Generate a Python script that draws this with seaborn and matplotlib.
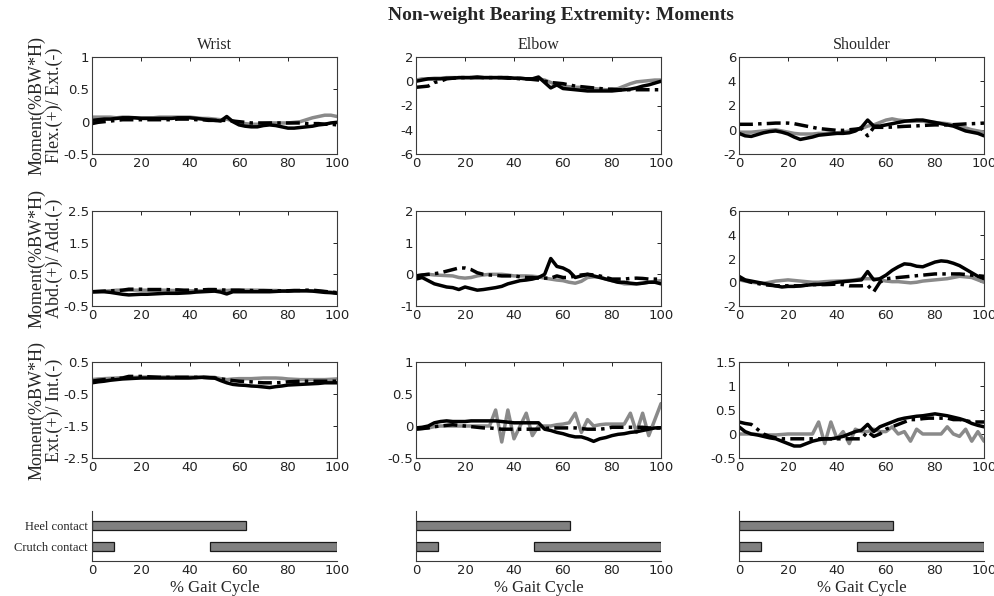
import matplotlib.pyplot as plt
import seaborn as sns
import numpy as np
from matplotlib.ticker import FuncFormatter

# % gait cycle sample points (every 2.5 %)
gait = np.arange(0, 100.1, 2.5)

# ---- Flex/Ext moments ----
wrist_fe_gray = [0.07, 0.07, 0.07, 0.07, 0.06, 0.07, 0.07, 0.06, 0.06, 0.06,
                 0.06, 0.07, 0.07, 0.07, 0.07, 0.07, 0.07, 0.06, 0.05, 0.05,
                 0.04, 0.03, 0.04, 0.01, -0.02, -0.03, -0.04, -0.04, -0.03, -0.02,
                 -0.02, -0.02, -0.02, -0.01, 0.00, 0.03, 0.06, 0.08, 0.10, 0.10, 0.08]
wrist_fe_black = [0.02, 0.03, 0.04, 0.04, 0.05, 0.06, 0.06, 0.06, 0.05, 0.05,
                  0.05, 0.05, 0.05, 0.05, 0.06, 0.06, 0.06, 0.05, 0.04, 0.03,
                  0.02, 0.01, 0.08, 0.00, -0.05, -0.07, -0.08, -0.08, -0.06, -0.05,
                  -0.06, -0.08, -0.10, -0.10, -0.09, -0.08, -0.07, -0.05, -0.04, -0.02, -0.01]
wrist_fe_dash = [-0.03, -0.01, 0.00, 0.01, 0.02, 0.03, 0.03, 0.03, 0.03, 0.03,
                 0.03, 0.03, 0.03, 0.03, 0.04, 0.04, 0.04, 0.03, 0.03, 0.02,
                 0.02, 0.02, 0.02, 0.01, 0.00, -0.01, -0.02, -0.02, -0.02, -0.02,
                 -0.02, -0.02, -0.02, -0.02, -0.02, -0.03, -0.03, -0.03, -0.04, -0.04, -0.05]

elbow_fe_gray = [0.1, 0.2, 0.2, 0.25, 0.25, 0.3, 0.3, 0.3, 0.3, 0.3,
                 0.3, 0.3, 0.3, 0.3, 0.3, 0.3, 0.25, 0.25, 0.2, 0.2,
                 0.2, 0.1, -0.1, -0.3, -0.4, -0.45, -0.5, -0.5, -0.55, -0.6,
                 -0.65, -0.7, -0.7, -0.6, -0.4, -0.2, -0.05, 0.0, 0.05, 0.1, 0.1]
elbow_fe_black = [0.0, 0.1, 0.2, 0.2, 0.2, 0.25, 0.25, 0.3, 0.3, 0.3,
                  0.35, 0.3, 0.3, 0.3, 0.3, 0.3, 0.25, 0.25, 0.2, 0.2,
                  0.35, -0.1, -0.55, -0.3, -0.6, -0.65, -0.7, -0.75, -0.8, -0.8,
                  -0.8, -0.8, -0.8, -0.75, -0.7, -0.65, -0.55, -0.4, -0.3, -0.15, 0.0]
elbow_fe_dash = [-0.5, -0.45, -0.4, -0.1, 0.0, 0.2, 0.25, 0.3, 0.3, 0.3,
                 0.3, 0.3, 0.3, 0.3, 0.3, 0.25, 0.25, 0.2, 0.2, 0.15,
                 0.1, 0.0, -0.1, -0.15, -0.2, -0.3, -0.4, -0.45, -0.5, -0.55,
                 -0.6, -0.65, -0.65, -0.7, -0.7, -0.7, -0.7, -0.7, -0.7, -0.7, -0.7]

shoulder_fe_gray = [-0.2, -0.2, -0.2, -0.15, -0.1, -0.05, 0.0, -0.1, -0.2, -0.3,
                    -0.35, -0.35, -0.35, -0.3, -0.3, -0.25, -0.25, -0.2, -0.1, 0.0,
                    0.1, 0.3, 0.4, 0.6, 0.8, 0.9, 0.8, 0.75, 0.7, 0.7,
                    0.7, 0.65, 0.6, 0.55, 0.5, 0.4, 0.3, 0.15, 0.0, -0.1, -0.2]
shoulder_fe_black = [-0.3, -0.5, -0.55, -0.4, -0.25, -0.15, -0.1, -0.2, -0.35, -0.6,
                     -0.8, -0.7, -0.6, -0.45, -0.4, -0.35, -0.3, -0.3, -0.25, -0.1,
                     0.2, 0.8, 0.3, 0.3, 0.4, 0.5, 0.6, 0.7, 0.75, 0.8,
                     0.8, 0.7, 0.6, 0.5, 0.4, 0.3, 0.1, -0.1, -0.2, -0.3, -0.5]
shoulder_fe_dash = [0.45, 0.45, 0.45, 0.48, 0.5, 0.52, 0.55, 0.55, 0.55, 0.5,
                    0.4, 0.3, 0.2, 0.1, 0.05, 0.0, -0.05, -0.05, 0.0, 0.05,
                    0.1, -0.5, 0.2, 0.2, 0.2, 0.22, 0.25, 0.28, 0.3, 0.32,
                    0.35, 0.38, 0.4, 0.4, 0.4, 0.42, 0.45, 0.48, 0.5, 0.52, 0.55]

# ---- Abd/Add moments ----
wrist_aa_gray = [-0.05, -0.04, -0.03, -0.02, 0.0, 0.0, 0.0, 0.0, 0.0, 0.0,
                 0.0, 0.0, 0.0, -0.01, -0.01, -0.02, -0.02, -0.02, -0.02, -0.02,
                 -0.02, -0.01, -0.01, 0.0, 0.0, 0.0, 0.0, 0.0, 0.0, -0.01,
                 -0.01, -0.02, -0.02, -0.02, -0.02, -0.02, -0.02, -0.03, -0.05, -0.06, -0.08]
wrist_aa_black = [-0.05, -0.05, -0.05, -0.07, -0.1, -0.13, -0.15, -0.14, -0.13, -0.13,
                  -0.12, -0.11, -0.1, -0.1, -0.1, -0.09, -0.08, -0.06, -0.05, -0.04,
                  -0.03, -0.06, -0.12, -0.05, -0.05, -0.05, -0.05, -0.05, -0.05, -0.05,
                  -0.04, -0.03, -0.03, -0.02, -0.02, -0.02, -0.03, -0.05, -0.07, -0.08, -0.1]
wrist_aa_dash = [-0.05, -0.04, -0.03, -0.02, -0.02, 0.0, 0.03, 0.03, 0.03, 0.02,
                 0.02, 0.02, 0.02, 0.01, 0.01, 0.0, 0.0, 0.01, 0.01, 0.02,
                 0.02, 0.01, 0.0, 0.0, 0.0, -0.01, -0.01, -0.02, -0.02, -0.02,
                 -0.02, -0.02, -0.02, -0.01, -0.01, 0.0, 0.0, -0.02, -0.04, -0.06, -0.08]

elbow_aa_gray = [-0.05, -0.02, 0.0, -0.02, -0.03, -0.04, -0.05, -0.1, -0.12, -0.1,
                 -0.05, -0.02, 0.0, 0.0, 0.0, -0.02, -0.05, -0.05, -0.05, -0.06,
                 -0.08, -0.12, -0.15, -0.18, -0.2, -0.25, -0.28, -0.22, -0.1, -0.08,
                 -0.08, -0.15, -0.2, -0.25, -0.3, -0.3, -0.3, -0.28, -0.25, -0.22, -0.2]
elbow_aa_black = [-0.15, -0.1, -0.2, -0.3, -0.35, -0.4, -0.42, -0.48, -0.4, -0.45,
                  -0.5, -0.48, -0.45, -0.42, -0.38, -0.3, -0.25, -0.2, -0.18, -0.15,
                  -0.1, 0.0, 0.5, 0.25, 0.2, 0.1, -0.1, -0.05, 0.0, -0.05,
                  -0.1, -0.15, -0.2, -0.25, -0.25, -0.28, -0.3, -0.28, -0.25, -0.25, -0.3]
elbow_aa_dash = [-0.05, -0.02, 0.0, 0.02, 0.05, 0.1, 0.15, 0.2, 0.2, 0.15,
                 0.05, 0.0, -0.02, -0.03, -0.05, -0.05, -0.05, -0.08, -0.1, -0.1,
                 -0.12, -0.12, -0.12, -0.05, -0.1, -0.1, -0.05, -0.02, 0.0, -0.02,
                 -0.05, -0.1, -0.15, -0.15, -0.15, -0.13, -0.12, -0.13, -0.15, -0.15, -0.15]

shoulder_aa_gray = [0.2, 0.1, 0.0, -0.05, -0.1, 0.0, 0.1, 0.15, 0.2, 0.15,
                    0.1, 0.05, 0.0, 0.0, 0.05, 0.08, 0.1, 0.12, 0.15, 0.2,
                    0.3, 0.3, 0.3, 0.2, 0.1, 0.05, 0.05, 0.0, -0.05, 0.0,
                    0.1, 0.15, 0.2, 0.25, 0.3, 0.4, 0.5, 0.45, 0.4, 0.2, 0.0]
shoulder_aa_black = [0.5, 0.2, 0.1, 0.0, -0.1, -0.2, -0.3, -0.4, -0.35, -0.35,
                     -0.3, -0.25, -0.2, -0.18, -0.15, -0.08, 0.0, 0.05, 0.1, 0.15,
                     0.2, 0.9, 0.2, 0.3, 0.6, 1.0, 1.3, 1.55, 1.5, 1.35,
                     1.3, 1.5, 1.7, 1.8, 1.75, 1.6, 1.4, 1.1, 0.8, 0.5, 0.3]
shoulder_aa_dash = [0.3, 0.15, 0.0, -0.1, -0.2, -0.25, -0.3, -0.3, -0.3, -0.3,
                    -0.3, -0.25, -0.2, -0.2, -0.2, -0.18, -0.15, -0.2, -0.3, -0.3,
                    -0.3, -0.25, -0.8, 0.0, 0.3, 0.35, 0.4, 0.45, 0.5, 0.55,
                    0.6, 0.65, 0.7, 0.7, 0.7, 0.7, 0.7, 0.65, 0.6, 0.55, 0.5]

# ---- Ext/Int rotation moments ----
wrist_ie_gray = [-0.05, -0.03, -0.02, -0.01, 0.0, 0.01, 0.02, 0.02, 0.03, 0.03,
                 0.03, 0.03, 0.03, 0.03, 0.03, 0.03, 0.03, 0.03, 0.03, 0.03,
                 0.02, -0.02, -0.05, -0.03, -0.02, -0.02, -0.02, -0.01, 0.0, 0.0,
                 0.0, -0.01, -0.03, -0.04, -0.05, -0.05, -0.05, -0.05, -0.05, -0.04, -0.03]
wrist_ie_black = [-0.15, -0.12, -0.1, -0.07, -0.05, -0.03, -0.02, -0.01, 0.0, 0.0,
                  0.0, 0.0, 0.0, 0.0, 0.0, 0.0, 0.0, 0.01, 0.02, 0.01,
                  0.0, -0.08, -0.15, -0.2, -0.22, -0.23, -0.25, -0.26, -0.28, -0.3,
                  -0.27, -0.25, -0.22, -0.21, -0.2, -0.19, -0.18, -0.17, -0.15, -0.15, -0.15]
wrist_ie_dash = [-0.1, -0.07, -0.05, -0.03, -0.02, 0.0, 0.05, 0.05, 0.05, 0.04,
                 0.03, 0.02, 0.02, 0.02, 0.02, 0.02, 0.02, 0.02, 0.02, 0.01,
                 0.0, -0.03, -0.05, -0.08, -0.1, -0.11, -0.12, -0.14, -0.15, -0.15,
                 -0.15, -0.14, -0.12, -0.11, -0.1, -0.1, -0.1, -0.1, -0.1, -0.1, -0.1]

elbow_ie_gray = [-0.05, -0.04, -0.03, -0.01, 0.0, 0.0, 0.0, 0.0, 0.0, 0.0,
                 0.0, 0.0, 0.0, 0.25, -0.25, 0.25, -0.2, 0.0, 0.2, -0.15,
                 0.0, 0.0, 0.0, 0.02, 0.03, 0.05, 0.2, -0.1, 0.1, 0.0,
                 0.02, 0.03, 0.03, 0.03, 0.03, 0.2, -0.1, 0.2, -0.15, 0.1, 0.35]
elbow_ie_black = [-0.03, -0.02, 0.0, 0.05, 0.07, 0.08, 0.07, 0.07, 0.07, 0.08,
                  0.08, 0.08, 0.08, 0.08, 0.07, 0.06, 0.05, 0.05, 0.05, 0.05,
                  0.05, -0.05, -0.07, -0.1, -0.12, -0.15, -0.17, -0.17, -0.2, -0.24,
                  -0.2, -0.18, -0.15, -0.13, -0.12, -0.1, -0.09, -0.07, -0.05, -0.03, -0.03]
elbow_ie_dash = [-0.05, -0.04, -0.03, -0.01, 0.0, 0.01, 0.02, 0.01, 0.0, -0.01,
                 -0.02, -0.03, -0.03, -0.04, -0.05, -0.05, -0.05, -0.05, -0.05, -0.05,
                 -0.05, -0.04, -0.03, -0.03, -0.03, -0.03, -0.03, -0.04, -0.05, -0.05,
                 -0.05, -0.04, -0.02, -0.02, -0.02, -0.02, -0.02, -0.02, -0.03, -0.03, -0.03]

shoulder_ie_gray = [0.0, 0.0, 0.0, -0.01, -0.02, -0.02, -0.02, -0.01, 0.0, 0.0,
                    0.0, 0.0, 0.0, 0.25, -0.2, 0.25, -0.1, 0.05, -0.2, 0.1,
                    0.05, 0.05, 0.1, 0.05, 0.05, 0.15, 0.0, 0.05, -0.15, 0.1,
                    0.0, 0.0, 0.0, 0.0, 0.15, 0.0, -0.05, 0.1, -0.15, 0.05, -0.15]
shoulder_ie_black = [0.15, 0.05, 0.0, -0.02, -0.05, -0.08, -0.1, -0.15, -0.2, -0.25,
                     -0.25, -0.2, -0.15, -0.12, -0.1, -0.1, -0.08, -0.05, 0.0, 0.05,
                     0.08, 0.2, 0.05, 0.15, 0.2, 0.25, 0.3, 0.33, 0.35, 0.37,
                     0.38, 0.4, 0.42, 0.4, 0.38, 0.35, 0.32, 0.28, 0.22, 0.18, 0.15]
shoulder_ie_dash = [0.25, 0.22, 0.2, 0.1, 0.0, -0.05, -0.08, -0.1, -0.1, -0.1,
                    -0.1, -0.1, -0.1, -0.1, -0.1, -0.1, -0.1, -0.1, -0.1, -0.1,
                    -0.1, 0.05, -0.05, 0.0, 0.1, 0.15, 0.2, 0.25, 0.3, 0.3,
                    0.32, 0.33, 0.33, 0.33, 0.33, 0.3, 0.3, 0.28, 0.25, 0.25, 0.25]

joints = ["Wrist", "Elbow", "Shoulder"]
row_labels = ["Moment(%BW*H)\nFlex.(+)/ Ext.(-)",
              "Moment(%BW*H)\nAbd.(+)/ Add.(-)",
              "Moment(%BW*H)\nExt.(+)/ Int.(-)"]
ylims = [[(-0.5, 1), (-6, 2), (-2, 6)],
         [(-0.5, 2.5), (-1, 2), (-2, 6)],
         [(-2.5, 0.5), (-0.5, 1), (-0.5, 1.5)]]
yticks = [[[-0.5, 0, 0.5, 1], [-6, -4, -2, 0, 2], [-2, 0, 2, 4, 6]],
          [[-0.5, 0.5, 1.5, 2.5], [-1, 0, 1, 2], [-2, 0, 2, 4, 6]],
          [[-2.5, -1.5, -0.5, 0.5], [-0.5, 0, 0.5, 1], [-0.5, 0, 0.5, 1, 1.5]]]

series = [
    [(wrist_fe_gray, wrist_fe_dash, wrist_fe_black),
     (elbow_fe_gray, elbow_fe_dash, elbow_fe_black),
     (shoulder_fe_gray, shoulder_fe_dash, shoulder_fe_black)],
    [(wrist_aa_gray, wrist_aa_dash, wrist_aa_black),
     (elbow_aa_gray, elbow_aa_dash, elbow_aa_black),
     (shoulder_aa_gray, shoulder_aa_dash, shoulder_aa_black)],
    [(wrist_ie_gray, wrist_ie_dash, wrist_ie_black),
     (elbow_ie_gray, elbow_ie_dash, elbow_ie_black),
     (shoulder_ie_gray, shoulder_ie_dash, shoulder_ie_black)],
]

# contact phases (row 1 = heel, row 0 = crutch)
contact_names = ["Crutch contact", "Heel contact"]
bar_row = [1, 0, 0]
bar_start = [0, 0, 48]
bar_end = [63, 9, 100]

sns.set_style("white")
plt.rcParams['font.family'] = ['Liberation Serif', 'DejaVu Serif']
tick_font = ['Liberation Sans Narrow', 'DejaVu Sans']

W, H = 995, 596
fig = plt.figure(figsize=(W / 100, H / 100), dpi=100)

lefts = [92, 416, 739]
rows = [(57, 154), (211, 306), (362, 458)]
fmt = FuncFormatter(lambda v, p: f"{v:g}")
spine_col = "#3a3a3a"

def rect(left, top, bottom):
    return [left / W, 1 - bottom / H, 245 / W, (bottom - top) / H]

for r, (top, bottom) in enumerate(rows):
    for c, left in enumerate(lefts):
        ax = fig.add_axes(rect(left, top, bottom))
        g, d, b = series[r][c]
        sns.lineplot(x=gait, y=g, ax=ax, color="#8a8a8a", linewidth=2.5)
        sns.lineplot(x=gait, y=d, ax=ax, color="black", linewidth=2.5,
                     linestyle=(0, (4, 1.5, 1, 1.5)))
        sns.lineplot(x=gait, y=b, ax=ax, color="black", linewidth=2.5)
        ax.set_xlim(0, 100)
        ax.set_ylim(*ylims[r][c])
        ax.set_xticks([0, 20, 40, 60, 80, 100])
        ax.set_yticks(yticks[r][c])
        ax.xaxis.set_major_formatter(fmt)
        ax.yaxis.set_major_formatter(fmt)
        ax.tick_params(direction="in", length=3, width=0.7, top=True, right=True,
                       labelsize=9.5, colors="#222222", pad=2,
                       labelfontfamily=tick_font)
        for s in ax.spines.values():
            s.set_color(spine_col)
            s.set_linewidth(0.8)
        ax.set_xlabel("")
        ax.set_ylabel("")
        if r == 0:
            ax.set_title(joints[c], fontsize=11.5, pad=6)
    fig.text(46 / W, 1 - (top + bottom) / 2 / H, row_labels[r], rotation=90,
             ha="center", va="center", fontsize=13, linespacing=1.0)

for c, left in enumerate(lefts):
    ax = fig.add_axes(rect(left, 511, 561))
    ax.barh(bar_row, [e - s for s, e in zip(bar_start, bar_end)], left=bar_start,
            height=0.45, color="#808080", edgecolor="#1a1a1a", linewidth=0.9)
    ax.set_xlim(0, 100)
    ax.set_ylim(-0.7, 1.7)
    ax.set_xticks([0, 20, 40, 60, 80, 100])
    ax.xaxis.set_major_formatter(fmt)
    ax.set_yticks([0, 1])
    if c == 0:
        ax.set_yticklabels(contact_names, fontsize=9)
    else:
        ax.set_yticklabels([])
    ax.tick_params(axis="x", direction="in", length=3, width=0.7,
                   labelsize=9.5, colors="#222222", pad=2,
                   labelfontfamily=tick_font)
    ax.tick_params(axis="y", length=0, pad=3, colors="#222222")
    for side in ["top", "right"]:
        ax.spines[side].set_visible(False)
    for side in ["left", "bottom"]:
        ax.spines[side].set_color(spine_col)
        ax.spines[side].set_linewidth(0.8)
    ax.set_xlabel("% Gait Cycle", fontsize=12, labelpad=2)

fig.text(561 / W, 1 - 15 / H, "Non-weight Bearing Extremity: Moments",
         ha="center", va="center", fontsize=14, fontweight="bold")

fig.savefig("out.png", dpi=100)
